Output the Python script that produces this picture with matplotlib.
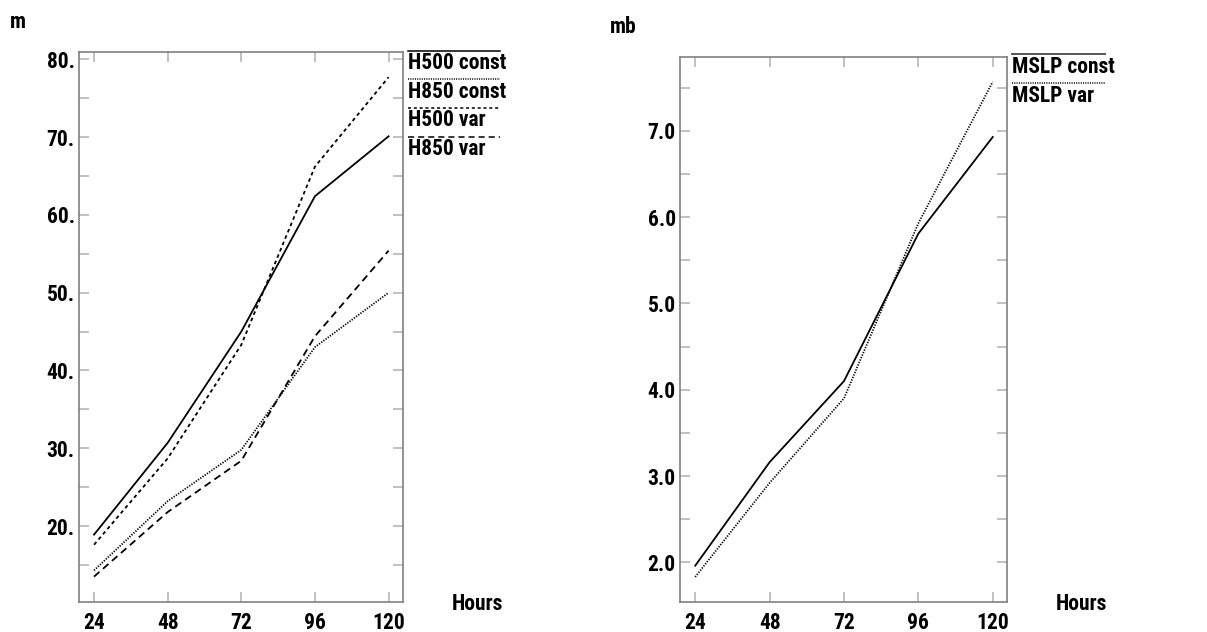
import matplotlib
matplotlib.use('Agg')
import matplotlib.pyplot as plt
from matplotlib.lines import Line2D
from matplotlib.ticker import MultipleLocator, FormatStrFormatter

plt.rcParams['font.family'] = ['Roboto Condensed', 'DejaVu Sans']
plt.rcParams['font.weight'] = 'bold'

# 数据
hours = [24, 48, 72, 96, 120]
h500_const = [18.9, 30.7, 45.0, 62.4, 70.1]
h850_const = [14.3, 23.2, 29.8, 43.0, 50.0]
h500_var = [17.6, 28.7, 43.3, 66.2, 77.7]
h850_var = [13.5, 21.8, 28.4, 44.4, 55.4]
mslp_const = [1.96, 3.16, 4.10, 5.81, 6.93]
mslp_var = [1.83, 2.92, 3.90, 5.93, 7.57]

W, H = 1207, 632
fig = plt.figure(figsize=(W / 100, H / 100), dpi=100)


def fx(x):
    return x / W


def fy(y):
    return 1 - y / H


# 线型
STYLES = {
    'solid': '-',
    'dot': (0, (0.7, 0.8)),
    'short': (0, (2.0, 1.8)),
    'long': (0, (4.0, 2.6)),
}
FS = 15.5
LW = 1.3
SPINE = '#808080'
TICK = '#b0b0b0'


def style_axes(ax, ylim, major, minor, fmt):
    ax.set_xlim(19.1, 124.7)
    ax.set_ylim(*ylim)
    ax.set_xticks(hours)
    ax.yaxis.set_major_locator(MultipleLocator(major))
    ax.yaxis.set_minor_locator(MultipleLocator(minor))
    ax.yaxis.set_major_formatter(FormatStrFormatter(fmt))
    for s in ax.spines.values():
        s.set_color(SPINE)
        s.set_linewidth(1.2)
    ax.tick_params(which='both', direction='in', top=True, right=True,
                   length=7, width=1.1, color=TICK, labelsize=FS)
    ax.tick_params(axis='x', pad=7)
    ax.tick_params(axis='y', pad=3)


# 左图: 位势高度
ax1 = fig.add_axes([fx(79), fy(602.3), fx(403 - 79), (602.3 - 52.3) / H])
ax1.plot(hours, h500_const, color='black', lw=LW, ls=STYLES['solid'])
ax1.plot(hours, h850_const, color='black', lw=LW, ls=STYLES['dot'])
ax1.plot(hours, h500_var, color='black', lw=LW, ls=STYLES['short'])
ax1.plot(hours, h850_var, color='black', lw=LW, ls=STYLES['long'])
style_axes(ax1, (10.2, 80.9), 10, 5, '%d.')

# 右图: 海平面气压
ax2 = fig.add_axes([fx(680), fy(602.3), fx(1007.3 - 680), (602.3 - 57.3) / H])
ax2.plot(hours, mslp_const, color='black', lw=LW, ls=STYLES['solid'])
ax2.plot(hours, mslp_var, color='black', lw=LW, ls=STYLES['dot'])
style_axes(ax2, (1.536, 7.854), 1.0, 0.5, '%.1f')

# 单位与坐标轴标题
fig.text(fx(10), fy(28), 'm', fontsize=FS, va='baseline')
fig.text(fx(610), fy(33), 'mb', fontsize=FS, va='baseline')
fig.text(fx(452), fy(610), 'Hours', fontsize=FS, va='baseline')
fig.text(fx(1056), fy(610), 'Hours', fontsize=FS, va='baseline')

# 图例 (线在文字上方)
left_legend = [('H500 const', 'solid', 50.7), ('H850 const', 'dot', 79.3),
               ('H500 var', 'short', 108.0), ('H850 var', 'long', 136.7)]
for label, key, y in left_legend:
    fig.add_artist(Line2D([fx(408), fx(500)], [fy(y), fy(y)], color='black',
                          lw=1.1, ls=STYLES[key], transform=fig.transFigure))
    fig.text(fx(408), fy(y + 18.3), label, fontsize=FS, va='baseline')

right_legend = [('MSLP const', 'solid', 54.3), ('MSLP var', 'dot', 83.3)]
for label, key, y in right_legend:
    fig.add_artist(Line2D([fx(1012), fx(1105)], [fy(y), fy(y)], color='#555555' if key == 'solid' else 'black',
                          lw=1.4 if key == 'solid' else 1.1, ls=STYLES[key], transform=fig.transFigure))
    fig.text(fx(1012), fy(y + 18.8), label, fontsize=FS, va='baseline')

fig.savefig('out.png', dpi=100)
plt.close(fig)
